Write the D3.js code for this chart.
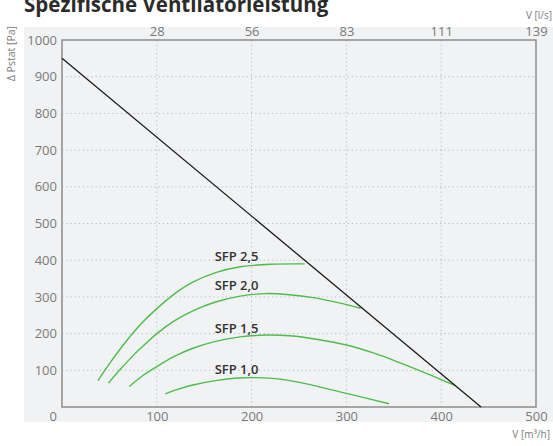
<!DOCTYPE html>
<html>
<head>
<meta charset="utf-8">
<script src="https://cdn.jsdelivr.net/npm/d3@7"></script>
<style>
  body { margin: 0; background: #fff; }
  svg { display: block; font-family: "Open Sans", sans-serif; }
</style>
</head>
<body>
<svg id="chart" width="553" height="446"></svg>
<script>
// x: volume flow [m³/h], y: static pressure [Pa]
const xTicks = [0, 100, 200, 300, 400, 500];
const yTicks = [0, 100, 200, 300, 400, 500, 600, 700, 800, 900, 1000];
const topTickLabels = [28, 56, 83, 111, 139];   // l/s for 100..500 m³/h

const systemLine = [[0, 950], [442, 0]];

const sfp25 = [[38, 72], [52, 125], [68, 180], [84, 228], [100, 268], [118, 307], [138, 340], [162, 366], [188, 382], [220, 389], [256, 390]];
const sfp20 = [[49, 65], [62, 104], [75, 140], [88, 172], [100, 200], [118, 234], [138, 262], [162, 286], [188, 302], [215, 309], [240, 306], [265, 298], [290, 285], [315, 269]];
const sfp15 = [[71, 56], [85, 85], [100, 110], [118, 137], [138, 160], [162, 179], [188, 191], [215, 196], [240, 194], [270, 184], [300, 169], [330, 146], [356, 121], [385, 91], [415, 58]];
const sfp10 = [[109, 36], [122, 48], [138, 60], [162, 72], [185, 79], [205, 80], [230, 76], [258, 63], [300, 37], [345, 9]];

const curveNames = ["SFP 2,5", "SFP 2,0", "SFP 1,5", "SFP 1,0"];
const curves = [sfp25, sfp20, sfp15, sfp10];
const labelAnchors = [[161, 398], [161, 318], [161, 202], [161, 89]];

const svg = d3.select("#chart");

const x = d3.scaleLinear().domain([0, 500]).range([62, 536]);
const y = d3.scaleLinear().domain([0, 1000]).range([407, 40]);

// grey panel behind the plot
svg.append("rect")
    .attr("x", 24).attr("y", 27)
    .attr("width", 529).attr("height", 395)
    .attr("fill", "#f1f2f4");

// dotted grid
svg.append("g").selectAll("line")
    .data(xTicks.slice(1, -1))
    .join("line")
    .attr("x1", d => x(d)).attr("x2", d => x(d))
    .attr("y1", y(0)).attr("y2", y(1000))
    .attr("stroke", "#b9bbbf")
    .attr("stroke-dasharray", "1.2,3");

svg.append("g").selectAll("line")
    .data(yTicks.slice(1, -1))
    .join("line")
    .attr("x1", x(0)).attr("x2", x(500))
    .attr("y1", d => y(d)).attr("y2", d => y(d))
    .attr("stroke", "#b9bbbf")
    .attr("stroke-dasharray", "1.2,3");

// axes (labels only, the frame is drawn below)
const styleAxis = g => {
    g.select(".domain").remove();
    g.selectAll(".tick line").remove();
    g.selectAll(".tick text")
        .attr("fill", "#7a7a7a")
        .attr("font-size", 13)
        .attr("font-family", "Open Sans, sans-serif");
};

svg.append("g")
    .attr("transform", `translate(0,${y(0)})`)
    .call(d3.axisBottom(x).tickValues(xTicks.slice(1)).tickSize(0).tickPadding(5).tickFormat(d3.format("d")))
    .call(styleAxis);

svg.append("g")
    .attr("transform", `translate(${x(0)},0)`)
    .call(d3.axisLeft(y).tickValues(yTicks).tickSize(0).tickPadding(5).tickFormat(d3.format("d")))
    .call(styleAxis)
    .call(g => g.selectAll(".tick text").filter(d => d === 0).attr("dy", "1.0em"));

svg.append("g")
    .attr("transform", `translate(0,${y(1000)})`)
    .call(d3.axisTop(x).tickValues(xTicks.slice(1)).tickSize(0).tickPadding(4)
        .tickFormat((d, i) => topTickLabels[i]))
    .call(styleAxis);

// frame
svg.append("rect")
    .attr("x", x(0)).attr("y", y(1000))
    .attr("width", x(500) - x(0)).attr("height", y(0) - y(1000))
    .attr("fill", "none")
    .attr("stroke", "#8c8c8c")
    .attr("stroke-width", 1.5);

const line = d3.line().x(d => x(d[0])).y(d => y(d[1]));
const smooth = d3.line().curve(d3.curveCatmullRom.alpha(0.5)).x(d => x(d[0])).y(d => y(d[1]));

svg.append("g").selectAll("path")
    .data(curves)
    .join("path")
    .attr("d", smooth)
    .attr("fill", "none")
    .attr("stroke", "#4cbd4a")
    .attr("stroke-width", 1.4);

svg.append("path")
    .attr("d", line(systemLine))
    .attr("fill", "none")
    .attr("stroke", "#1a1a1a")
    .attr("stroke-width", 1.3);

svg.append("g").selectAll("text")
    .data(curveNames)
    .join("text")
    .attr("x", (d, i) => x(labelAnchors[i][0]))
    .attr("y", (d, i) => y(labelAnchors[i][1]))
    .attr("font-size", 13)
    .attr("font-weight", 600)
    .attr("fill", "#333")
    .text(d => d);

// titles
svg.append("text")
    .attr("x", 24).attr("y", 12)
    .attr("font-size", 20.5)
    .attr("font-weight", 700)
    .attr("fill", "#2b2b2b")
    .text("Spezifische Ventilatorleistung");

svg.append("text")
    .attr("transform", "translate(15,26) rotate(-90)")
    .attr("text-anchor", "end")
    .attr("font-size", 10.5)
    .attr("fill", "#7a7a7a")
    .text("Δ Pstat [Pa]");

svg.append("text")
    .attr("x", 552).attr("y", 19)
    .attr("text-anchor", "end")
    .attr("font-size", 10)
    .attr("fill", "#7a7a7a")
    .text("V [l/s]");

svg.append("text")
    .attr("x", 550).attr("y", 438)
    .attr("text-anchor", "end")
    .attr("font-size", 10)
    .attr("fill", "#7a7a7a")
    .text("V [m³/h]");
</script>
</body>
</html>
